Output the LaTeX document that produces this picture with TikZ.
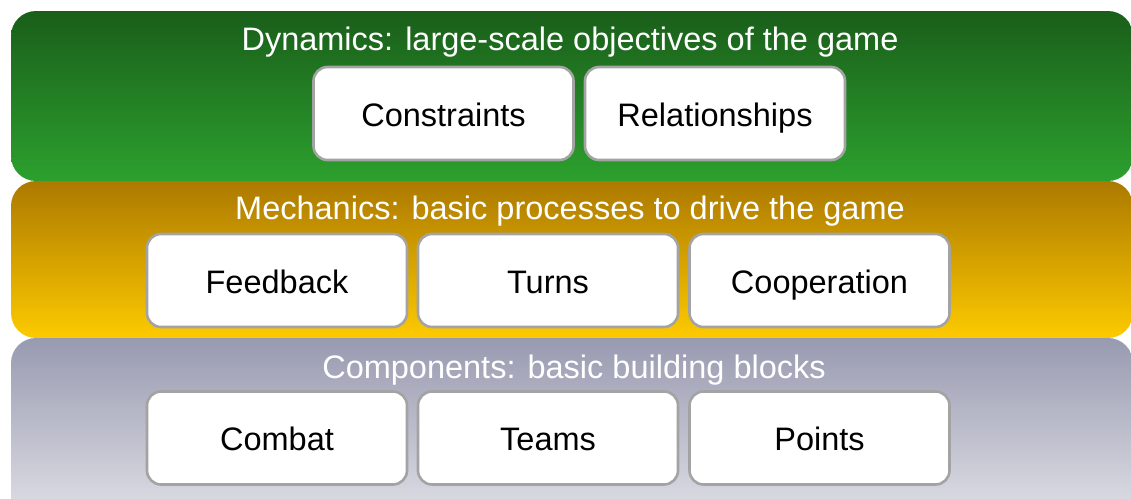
\documentclass[tikz,border=0pt]{standalone}
\usepackage{fontspec}
\setmainfont{Liberation Sans}
\begin{document}
\begin{tikzpicture}[x=1pt,y=-1pt,
  band/.style={rounded corners=25pt},
  bandtitle/.style={text=white,font=\fontsize{32.5}{36}\selectfont,inner sep=0pt,anchor=base},
  item/.style={draw=black!36,line width=2.6pt,fill=white,rounded corners=14pt,
    minimum width=260pt,minimum height=93pt,inner sep=0pt,
    text height=32pt,text depth=7pt,
    font=\fontsize{32.5}{36}\selectfont,text=black}]
\definecolor{dyntop}{RGB}{26,94,26}
\definecolor{dynbot}{RGB}{44,160,46}
\definecolor{mectop}{RGB}{172,121,0}
\definecolor{mecbot}{RGB}{253,202,0}
\definecolor{comtop}{RGB}{152,154,176}
\definecolor{combot}{RGB}{226,226,232}
\useasboundingbox (0,0) rectangle (1131,498);
\clip (0,0) rectangle (1131,498);
% layers, top to bottom
\shade[band,top color=dyntop,bottom color=dynbot] (11,11) rectangle (1133,181);
\shade[band,top color=mectop,bottom color=mecbot] (11,181) rectangle (1133,338);
\shade[band,top color=comtop,bottom color=combot] (11,338) rectangle (1133,525);
% layer titles (placed on their baselines)
\node[bandtitle] (tdyn) at (570,50) {Dynamics: large-scale objectives of the game};
\node[bandtitle] (tmec) at (570,219) {Mechanics: basic processes to drive the game};
\node[bandtitle] (tcom) at (574,378) {Components: basic building blocks};
% dynamics
\node[item] (constraints) at (443.5,113.5) {Constraints};
\node[item] (relationships) at (715,113.5) {Relationships};
% mechanics
\node[item] (feedback) at (277,280.5) {Feedback};
\node[item] (turns) at (548,280.5) {Turns};
\node[item] (cooperation) at (819.5,280.5) {Cooperation};
% components
\node[item] (combat) at (277,438) {Combat};
\node[item] (teams) at (548,438) {Teams};
\node[item] (points) at (819.5,438) {Points};
\end{tikzpicture}
\end{document}
